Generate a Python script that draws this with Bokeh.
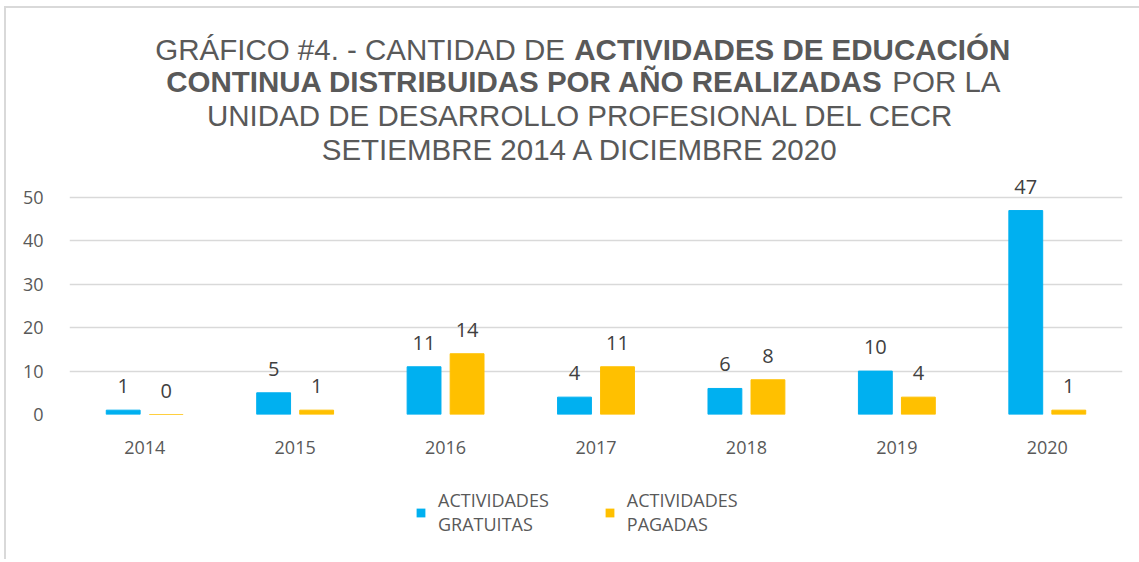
from bokeh.plotting import figure
from bokeh.layouts import column
from bokeh.models import (ColumnDataSource, FactorRange, Range1d, FixedTicker,
                          Label, Legend, LegendItem)
from bokeh.transform import dodge
from bokeh.core.properties import value
from bokeh.embed import file_html
from bokeh.resources import INLINE

# ---- data ----
years = ["2014", "2015", "2016", "2017", "2018", "2019", "2020"]
gratuitas = [1, 5, 11, 4, 6, 10, 47]
pagadas = [0, 1, 14, 11, 8, 4, 1]
series_names = ["ACTIVIDADES\nGRATUITAS", "ACTIVIDADES\nPAGADAS"]
y_ticks = [0, 10, 20, 30, 40, 50]

title_line1_normal = "GRÁFICO #4. - CANTIDAD DE"
title_line1_bold = "ACTIVIDADES DE EDUCACIÓN"
title_line2_bold = "CONTINUA DISTRIBUIDAS POR AÑO REALIZADAS"
title_line2_normal = "POR LA"
title_line3 = "UNIDAD DE DESARROLLO PROFESIONAL DEL CECR"
title_line4 = "SETIEMBRE 2014 A DICIEMBRE 2020"

BLUE = "#00B0F0"
GOLD = "#FFC000"
TXT = "#595959"
LBL = "#404040"
FONT = "Open Sans"
TFONT = "Liberation Sans"

def bare(f):
    f.xgrid.grid_line_color = None
    f.ygrid.grid_line_color = None
    f.outline_line_color = None
    f.border_fill_alpha = 0
    f.background_fill_alpha = 0

# ---------------- title figure ----------------
TH = 171
t = figure(width=1139, height=TH, x_range=Range1d(0, 1139), y_range=Range1d(TH, 0),
           x_axis_type=None, y_axis_type=None, output_backend="svg",
           toolbar_location=None, min_border=0, title=None)
bare(t)

DX, DY = -27, -10
def tl(txt, x, y, align, bold=False):
    t.add_layout(Label(x=x + DX, y=y + DY, text=txt, text_align=align,
                       text_baseline="alphabetic", text_font=TFONT,
                       text_font_size="29.5px",
                       text_font_style="bold" if bold else "normal",
                       text_color=TXT))

tl(title_line1_normal, 563, 59, "right")
tl(title_line1_bold, 573, 59, "left", True)
tl(title_line2_bold, 908, 91, "right", True)
tl(title_line2_normal, 917, 91, "left")
tl(title_line3, 580, 125, "center")
tl(title_line4, 580, 159, "center")

# ---------------- chart figure ----------------
src = ColumnDataSource(dict(
    year=years, g=gratuitas, p=pagadas,
    gl=[str(v) for v in gratuitas], pl=[str(v) for v in pagadas],
))

p = figure(x_range=FactorRange(*years), y_range=Range1d(0, 56),
           frame_width=1053, frame_height=243, output_backend="svg",
           toolbar_location=None, title=None,
           min_border_left=69, min_border_right=17,
           min_border_top=0, min_border_bottom=53)
p.border_fill_alpha = 0
p.background_fill_alpha = 0

off = 0.143
bw = 0.225
r1 = p.vbar(x=dodge("year", -off, range=p.x_range), top="g", width=bw,
            source=src, fill_color=BLUE, line_color=BLUE)
r2 = p.vbar(x=dodge("year", off, range=p.x_range), top="p", width=bw,
            source=src, fill_color=GOLD, line_color=GOLD)

p.text(x=dodge("year", -off, range=p.x_range), y="g", text="gl", source=src,
       text_align="center", text_baseline="alphabetic", y_offset=-24,
       text_font=value(FONT), text_font_size="20px", text_color=LBL)
p.text(x=dodge("year", off, range=p.x_range), y="p", text="pl", source=src,
       text_align="center", text_baseline="alphabetic", y_offset=-24,
       text_font=value(FONT), text_font_size="20px", text_color=LBL)

p.yaxis.ticker = FixedTicker(ticks=y_ticks)
p.yaxis.axis_line_color = None
p.yaxis.major_tick_line_color = None
p.yaxis.minor_tick_line_color = None
p.yaxis.major_label_standoff = 20
p.yaxis.major_label_text_font = FONT
p.yaxis.major_label_text_font_size = "18px"
p.yaxis.major_label_text_color = TXT

p.xaxis.axis_line_color = None
p.xaxis.major_tick_line_color = None
p.xaxis.minor_tick_line_color = None
p.xaxis.major_label_standoff = 20
p.xaxis.major_label_text_font = FONT
p.xaxis.major_label_text_font_size = "18px"
p.xaxis.major_label_text_color = TXT

p.xgrid.grid_line_color = None
p.ygrid.grid_line_color = "#D9D9D9"
p.ygrid.grid_line_width = 1.5
p.outline_line_color = None

# ---------------- legend figure ----------------
LH = 92
lg = figure(width=1139, height=LH, x_range=Range1d(0, 1139), y_range=Range1d(LH, 0),
            x_axis_type=None, y_axis_type=None, output_backend="svg",
            toolbar_location=None, min_border=0, title=None)
bare(lg)
# zero-height stand-ins that carry the series styles for the legend
lr1 = lg.vbar(x="g", top="g", bottom="g", width=0, source=src,
              fill_color=BLUE, line_alpha=0)
lr2 = lg.vbar(x="p", top="p", bottom="p", width=0, source=src,
              fill_color=GOLD, line_alpha=0)

legend = Legend(items=[LegendItem(label=series_names[0], renderers=[lr1]),
                       LegendItem(label=series_names[1], renderers=[lr2])],
                orientation="horizontal", location=(346, 23),
                glyph_width=11, glyph_height=11, label_standoff=12,
                spacing=55, padding=0, margin=0,
                label_text_font=FONT, label_text_font_size="18px",
                label_text_color=TXT, label_text_line_height=1.75,
                border_line_color=None, background_fill_alpha=0)
lg.add_layout(legend, "center")

frame_css = ("linear-gradient(#D9D9D9,#D9D9D9) 4px 6px / 2px 100% no-repeat, "
             "linear-gradient(#D9D9D9,#D9D9D9) 4px 6px / 100% 2px no-repeat")
layout = column(t, p, lg, spacing=0, styles={"background": frame_css})
open("out.html", "w").write(file_html(layout, INLINE))
